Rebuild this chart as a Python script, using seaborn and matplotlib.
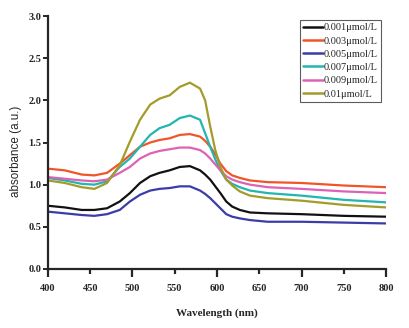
import matplotlib
matplotlib.use("Agg")
import matplotlib.pyplot as plt
import numpy as np
import pandas as pd
import seaborn as sns
from matplotlib.ticker import FixedLocator, FormatStrFormatter

# wavelength grid (nm)
wavelength = [400, 420, 440, 455, 470, 485, 497, 509, 521, 532, 544, 556, 568,
              580, 586, 592, 598, 604, 611, 618, 627, 639, 660, 700, 750, 800]

abs_0001 = [0.75, 0.73, 0.70, 0.70, 0.72, 0.80, 0.90, 1.02, 1.10, 1.14, 1.17, 1.21, 1.22,
            1.17, 1.12, 1.06, 0.98, 0.90, 0.80, 0.74, 0.70, 0.67, 0.66, 0.65, 0.63, 0.62]
abs_0003 = [1.19, 1.17, 1.12, 1.11, 1.14, 1.25, 1.35, 1.45, 1.50, 1.53, 1.55, 1.59, 1.60,
            1.57, 1.52, 1.45, 1.36, 1.25, 1.16, 1.11, 1.08, 1.05, 1.03, 1.02, 0.99, 0.97]
abs_0005 = [0.68, 0.66, 0.64, 0.63, 0.65, 0.70, 0.80, 0.88, 0.93, 0.95, 0.96, 0.98, 0.98,
            0.93, 0.89, 0.84, 0.78, 0.72, 0.65, 0.62, 0.60, 0.58, 0.56, 0.56, 0.55, 0.54]
abs_0007 = [1.08, 1.05, 1.01, 1.00, 1.04, 1.21, 1.31, 1.45, 1.59, 1.67, 1.71, 1.79, 1.82,
            1.77, 1.61, 1.45, 1.30, 1.17, 1.06, 1.01, 0.97, 0.93, 0.90, 0.87, 0.82, 0.79]
abs_0009 = [1.09, 1.07, 1.05, 1.04, 1.06, 1.14, 1.21, 1.31, 1.37, 1.40, 1.42, 1.44, 1.44,
            1.41, 1.37, 1.31, 1.24, 1.17, 1.10, 1.06, 1.03, 1.00, 0.97, 0.95, 0.92, 0.90]
abs_0010 = [1.05, 1.02, 0.97, 0.95, 1.02, 1.23, 1.51, 1.77, 1.95, 2.02, 2.06, 2.16, 2.21,
            2.14, 2.00, 1.69, 1.41, 1.21, 1.06, 0.99, 0.92, 0.87, 0.84, 0.81, 0.76, 0.73]

labels = ['0.001\u03bcmol/L', '0.003\u03bcmol/L', '0.005\u03bcmol/L',
          '0.007\u03bcmol/L', '0.009\u03bcmol/L', '0.01\u03bcmol/L']
colors = ['#111111', '#f0552a', '#3c3ca8', '#22b5b2', '#dd62b6', '#a39c2a']

series = [abs_0001, abs_0003, abs_0005, abs_0007, abs_0009, abs_0010]
df = pd.concat([pd.DataFrame({'Wavelength': wavelength, 'Absorbance': s, 'Conc': lab})
                for s, lab in zip(series, labels)], ignore_index=True)

sns.set_style("ticks")
fig = plt.figure(figsize=(4.09, 3.28), dpi=100)
ax = fig.add_axes([0.117, 0.180, 0.827, 0.771])

sns.lineplot(data=df, x='Wavelength', y='Absorbance', hue='Conc',
             palette=dict(zip(labels, colors)), hue_order=labels,
             linewidth=1.6, ax=ax)
for line in ax.get_lines():
    line.set_solid_joinstyle('round')

ax.set_xlim(400, 800)
ax.set_ylim(0, 3.0)
ax.spines['top'].set_visible(False)
ax.spines['right'].set_visible(False)
ax.spines['left'].set_linewidth(1.6)
ax.spines['bottom'].set_linewidth(1.6)

tick_font = {'family': 'Liberation Serif', 'weight': 'bold', 'size': 7.5}
ax.xaxis.set_major_locator(FixedLocator(np.arange(400, 801, 100)))
ax.xaxis.set_minor_locator(FixedLocator(np.arange(450, 800, 100)))
ax.xaxis.set_major_formatter(FormatStrFormatter('%d'))
ax.xaxis.set_minor_formatter(FormatStrFormatter('%d'))
ax.set_yticks(np.arange(0, 3.01, 0.5))
ax.yaxis.set_major_formatter(FormatStrFormatter('%.1f'))
ax.tick_params(axis='x', which='major', length=6, width=1.6, direction='out', pad=5)
ax.tick_params(axis='x', which='minor', length=3.5, width=1.6, direction='out', pad=7.5)
ax.tick_params(axis='y', which='major', length=3.5, width=1.4, direction='out', pad=1)
for lab in ax.get_xticklabels(which='both') + ax.get_yticklabels():
    lab.set_fontproperties(tick_font)
for lab in ax.get_xticklabels(which='minor'):
    lab.set_fontproperties(tick_font)

ax.set_xlabel('Wavelength (nm)', fontfamily='Liberation Serif', fontweight='bold',
              fontsize=8, labelpad=11)
ax.set_ylabel('absorbance (a.u.)', fontfamily='Liberation Sans', fontsize=8.4)
ax.yaxis.set_label_coords(-0.077, 0.465)

leg = ax.legend(loc='upper left', bbox_to_anchor=(0.745, 0.985), borderaxespad=0,
                frameon=True, fancybox=False, handlelength=1.9, handletextpad=0.1,
                labelspacing=0.38, borderpad=0.3, prop={'family': 'Liberation Serif', 'size': 7.5})
leg.get_frame().set_edgecolor('#333333')
leg.get_frame().set_linewidth(0.8)
for line in leg.get_lines():
    line.set_linewidth(1.8)

fig.savefig('out.png', dpi=100)
